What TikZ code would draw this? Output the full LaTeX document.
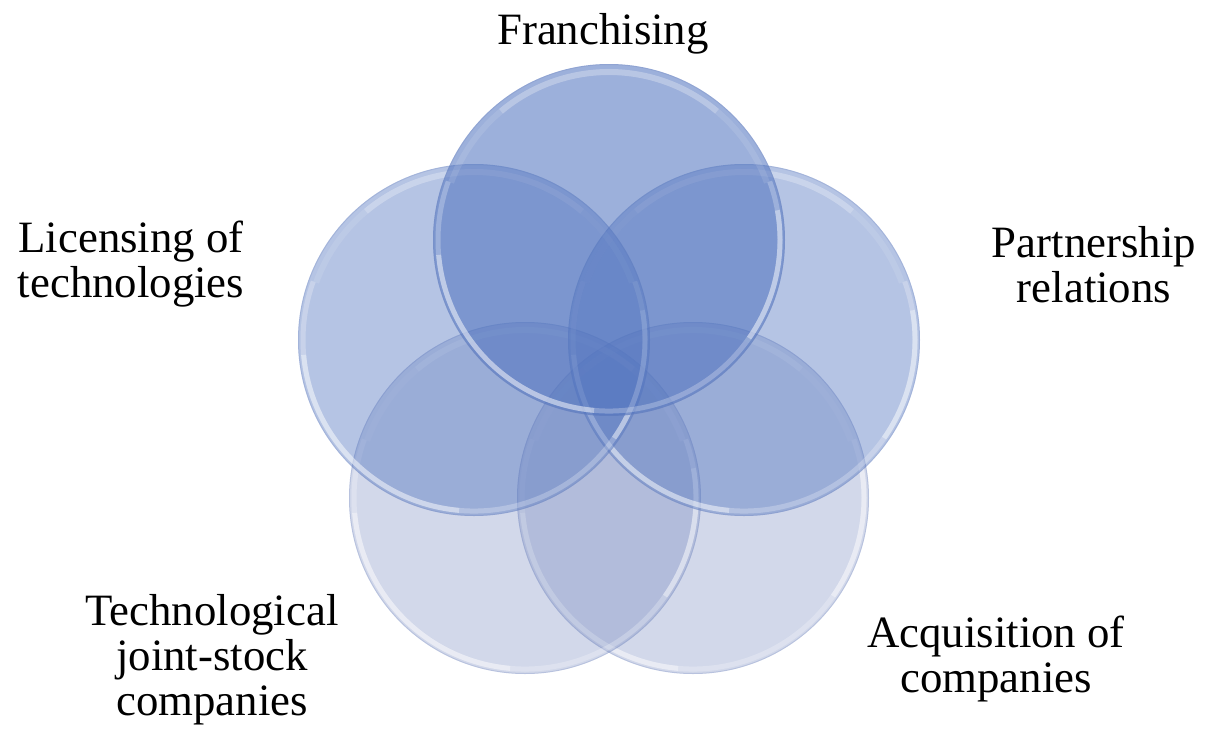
\documentclass[tikz,border=0pt]{standalone}
\usepackage{fontspec}
\setmainfont{Liberation Serif}
\definecolor{topc}{RGB}{79,114,190}
\definecolor{sidec}{RGB}{79,114,190}
\definecolor{botc}{RGB}{105,125,185}
\definecolor{edgec}{RGB}{110,132,188}
\begin{document}
\begin{tikzpicture}[x=0.5pt,y=-0.5pt,
  disc/.style={circle, draw=none, minimum size=176pt, inner sep=0pt},
  rim/.style={white, line width=#1},
  lbl/.style={font=\fontsize{22.4pt}{22.5pt}\selectfont, align=center, inner sep=0pt, anchor=base}]
\useasboundingbox (0,0) rectangle (1207,729);

% five translucent glass discs on a pentagon
\foreach \n/\x/\y/\c/\o in {brc/693/498/botc/0.30, blc/525/498/botc/0.30,
                             rc/744/340/sidec/0.42, lc/474/340/sidec/0.42,
                             tc/609/240/topc/0.56}{
  \node[disc, fill=\c, fill opacity=\o] (\n) at (\x,\y) {};
  % thin outer edge
  \draw[edgec, draw opacity=0.25, line width=0.5pt] (\n.center) circle[radius=175.5];
  % soft highlight band below the top edge
  \draw[rim=3pt, draw opacity=0.10] (\n.center) ++(200:168) arc[start angle=200, end angle=340, radius=168];
  \draw[rim=3pt, draw opacity=0.20] (\n.center) ++(230:168) arc[start angle=230, end angle=310, radius=168];
  % glossy reflection along the lower rim
  \draw[rim=2.5pt, draw opacity=0.25] (\n.center) ++(-20:171) arc[start angle=-20, end angle=200, radius=171];
  \draw[rim=2.5pt, draw opacity=0.35] (\n.center) ++(95:171) arc[start angle=95, end angle=175, radius=171];
  \draw[rim=2.5pt, draw opacity=0.35] (\n.center) ++(-10:171) arc[start angle=-10, end angle=35, radius=171];
}

% labels (anchored at the baseline of their last line)
\node[lbl] (franch) at (603,44) {Franchising};
\node[lbl] (licen) at (131,297) {Licensing of\\technologies};
\node[lbl] (partn) at (1094,302) {Partnership\\relations};
\node[lbl] (techn) at (212,715) {Technological\\joint-stock\\companies};
\node[lbl] (acqui) at (996,692) {Acquisition of\\companies};
\end{tikzpicture}
\end{document}
